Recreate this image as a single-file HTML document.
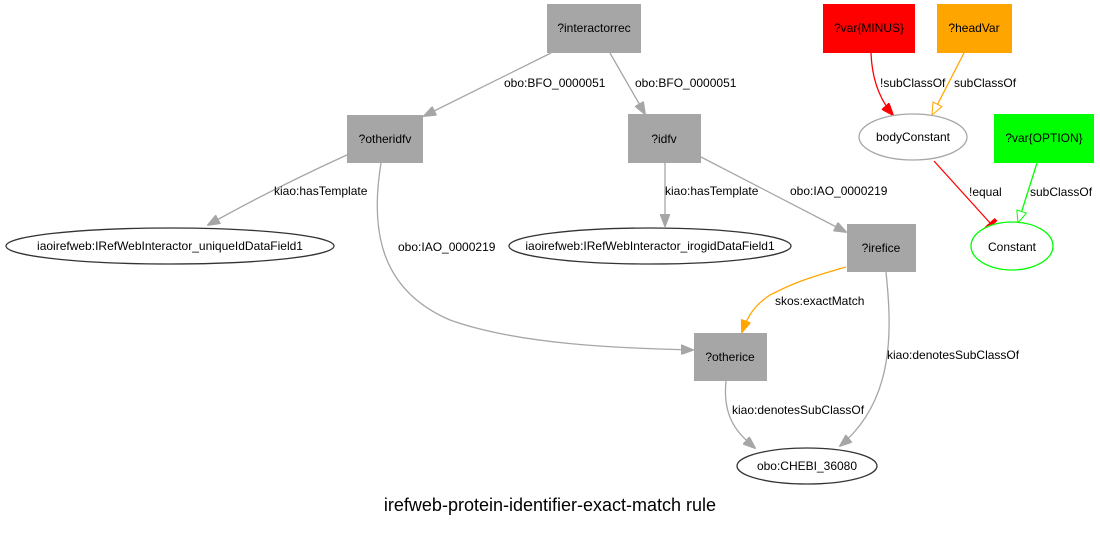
<!DOCTYPE html>
<html><head><meta charset="utf-8"><style>
html,body{margin:0;padding:0;background:#fff;}
svg text{font-family:"Liberation Sans",Arial,sans-serif;font-size:12px;fill:#000;}
</style></head><body>
<svg width="1100" height="528" viewBox="0 0 1100 528" xmlns="http://www.w3.org/2000/svg">
<defs>
<marker id="ag" markerWidth="13" markerHeight="10" refX="12" refY="5" orient="auto" markerUnits="userSpaceOnUse"><path d="M0,0 L13,5 L0,10 z" fill="#a6a6a6" stroke="#a6a6a6"/></marker>
<marker id="ao" markerWidth="13" markerHeight="10" refX="12" refY="5" orient="auto" markerUnits="userSpaceOnUse"><path d="M0,0 L13,5 L0,10 z" fill="#ffa500" stroke="#ffa500"/></marker>
<marker id="ar" markerWidth="13" markerHeight="10" refX="12" refY="5" orient="auto" markerUnits="userSpaceOnUse"><path d="M0,0 L13,5 L0,10 z" fill="#f00" stroke="#f00"/></marker>
<marker id="eo" markerWidth="14" markerHeight="12" refX="13" refY="6" orient="auto" markerUnits="userSpaceOnUse"><path d="M1,1 L13,6 L1,11 z" fill="#fff" stroke="#ffa500"/></marker>
<marker id="eg" markerWidth="14" markerHeight="12" refX="13" refY="6" orient="auto" markerUnits="userSpaceOnUse"><path d="M1,1 L13,6 L1,11 z" fill="#fff" stroke="#0f0"/></marker>
<marker id="tr" markerWidth="4" markerHeight="14" refX="2" refY="7" orient="auto" markerUnits="userSpaceOnUse"><rect x="0" y="0" width="4" height="14" fill="#f00"/></marker>
</defs>
<g fill="none" stroke="#a6a6a6" stroke-width="1.3">
<path d="M551,53 L424,116" marker-end="url(#ag)"/>
<path d="M610,53 L645,114" marker-end="url(#ag)"/>
<path d="M349,154 Q270,190 208,225" marker-end="url(#ag)"/>
<path d="M665,163 L665,226" marker-end="url(#ag)"/>
<path d="M701,157 L846,232" marker-end="url(#ag)"/>
<path d="M381,163 C370,230 380,290 450,320 C520,345 620,348 693,350" marker-end="url(#ag)"/>
<path d="M726,381 C722,420 740,435 755,448" marker-end="url(#ag)"/>
<path d="M886,272 C892,330 895,400 840,446" marker-end="url(#ag)"/>
</g>
<path d="M846,267 C800,280 790,285 770,295 C755,305 748,315 742,332" fill="none" stroke="#ffa500" stroke-width="1.3" marker-end="url(#ao)"/>
<path d="M871,53 C872,80 880,100 893,115" fill="none" stroke="#f00" stroke-width="1.3" marker-end="url(#ar)"/>
<path d="M964,53 L932,115" fill="none" stroke="#ffa500" stroke-width="1.3" marker-end="url(#eo)"/>
<path d="M934,161 L991,224" fill="none" stroke="#f00" stroke-width="1.3" marker-end="url(#tr)"/>
<path d="M1037,163 L1018,223" fill="none" stroke="#0f0" stroke-width="1.3" marker-end="url(#eg)"/>
<g fill="#a6a6a6">
<rect x="547" y="4" width="94" height="49"/>
<rect x="347" y="115" width="76" height="48"/>
<rect x="628" y="114" width="73" height="49"/>
<rect x="847" y="224" width="69" height="48"/>
<rect x="694" y="333" width="73" height="48"/>
</g>
<rect x="823" y="4" width="92" height="49" fill="#f00"/>
<rect x="937" y="4" width="75" height="49" fill="#ffa500"/>
<rect x="994" y="114" width="100" height="49" fill="#0f0"/>
<ellipse cx="913" cy="137" rx="54" ry="23" fill="#fff" stroke="#a6a6a6" stroke-width="1.3"/>
<ellipse cx="1012" cy="246" rx="41" ry="24" fill="#fff" stroke="#0f0" stroke-width="1.3"/>
<ellipse cx="170" cy="246" rx="164" ry="18" fill="#fff" stroke="#333" stroke-width="1.3"/>
<ellipse cx="650" cy="246" rx="141" ry="18" fill="#fff" stroke="#333" stroke-width="1.3"/>
<ellipse cx="807" cy="466" rx="70" ry="18" fill="#fff" stroke="#333" stroke-width="1.3"/>
<g text-anchor="middle">
<text x="594" y="32">?interactorrec</text>
<text x="385" y="143">?otheridfv</text>
<text x="664" y="143">?idfv</text>
<text x="881" y="252">?irefice</text>
<text x="730" y="361">?otherice</text>
<text x="869" y="32">?var{MINUS}</text>
<text x="974" y="32">?headVar</text>
<text x="1044" y="142">?var{OPTION}</text>
<text x="913" y="141">bodyConstant</text>
<text x="1012" y="251">Constant</text>
<text x="170" y="250">iaoirefweb:IRefWebInteractor_uniqueIdDataField1</text>
<text x="650" y="250">iaoirefweb:IRefWebInteractor_irogidDataField1</text>
<text x="807" y="470">obo:CHEBI_36080</text>
<text x="550" y="511" style="font-size:18px">irefweb-protein-identifier-exact-match rule</text>
</g>
<text x="504" y="87">obo:BFO_0000051</text>
<text x="635" y="87">obo:BFO_0000051</text>
<text x="274" y="195">kiao:hasTemplate</text>
<text x="665" y="195">kiao:hasTemplate</text>
<text x="790" y="195">obo:IAO_0000219</text>
<text x="398" y="251">obo:IAO_0000219</text>
<text x="775" y="305">skos:exactMatch</text>
<text x="887" y="359">kiao:denotesSubClassOf</text>
<text x="732" y="414">kiao:denotesSubClassOf</text>
<text x="880" y="87">!subClassOf</text>
<text x="954" y="87">subClassOf</text>
<text x="969" y="196">!equal</text>
<text x="1030" y="196">subClassOf</text>
</svg>
</body></html>
